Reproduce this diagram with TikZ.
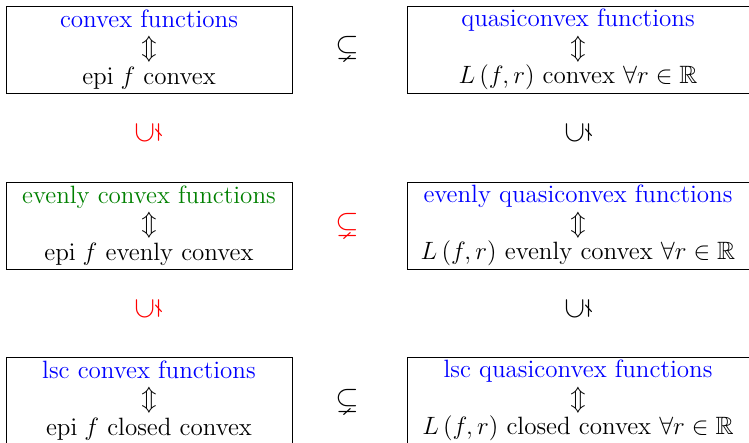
\documentclass[tikz,border=0pt]{standalone}
\usepackage{amssymb}
\usepackage{amsmath}
\definecolor{evgreen}{rgb}{0,0.5,0}
\begin{document}
\begin{tikzpicture}[x=0.479pt,y=-0.479pt,
  box/.style={draw, line width=0.4pt, minimum height=41.7pt, inner sep=0pt,
    align=center, font=\fontsize{12}{13.65}\selectfont},
  lbox/.style={box, minimum width=137pt},
  rbox/.style={box, minimum width=163.8pt},
  rel/.style={font=\fontsize{14.4}{16}\selectfont, inner sep=0pt},
  vrel/.style={rel, rotate=90}]
\useasboundingbox (0,0) rectangle (749,442);
% boxes
\node[lbox] (cf) at (149,49.5) {\textcolor{blue}{convex functions}\\ $\Updownarrow$\\ $\mathrm{epi}\; f$ convex};
\node[rbox] (qf) at (578,49.5) {\textcolor{blue}{quasiconvex functions}\\ $\Updownarrow$\\ $L\left(f,r\right)$ convex $\forall r\in\mathbb{R}$};
\node[lbox] (ecf) at (149,225.5) {\textcolor{evgreen}{evenly convex functions}\\ $\Updownarrow$\\ $\mathrm{epi}\; f$ evenly convex};
\node[rbox] (eqf) at (578,225.5) {\textcolor{blue}{evenly quasiconvex functions}\\ $\Updownarrow$\\ $L\left(f,r\right)$ evenly convex $\forall r\in\mathbb{R}$};
\node[lbox] (lcf) at (149,400.5) {\textcolor{blue}{lsc convex functions}\\ $\Updownarrow$\\ $\mathrm{epi}\; f$ closed convex};
\node[rbox] (lqf) at (578,400.5) {\textcolor{blue}{lsc quasiconvex functions}\\ $\Updownarrow$\\ $L\left(f,r\right)$ closed convex $\forall r\in\mathbb{R}$};
% horizontal relations
\node[rel] (h1) at (347,48) {$\subsetneq$};
\node[rel, text=red] (h2) at (347,225) {$\subsetneq$};
\node[rel] (h3) at (347,401) {$\subsetneq$};
% vertical relations
\node[vrel, text=red] (v1) at (148,133) {$\subsetneq$};
\node[vrel] (v2) at (578,133) {$\subsetneq$};
\node[vrel, text=red] (v3) at (148,309) {$\subsetneq$};
\node[vrel] (v4) at (578,309) {$\subsetneq$};
\end{tikzpicture}
\end{document}
